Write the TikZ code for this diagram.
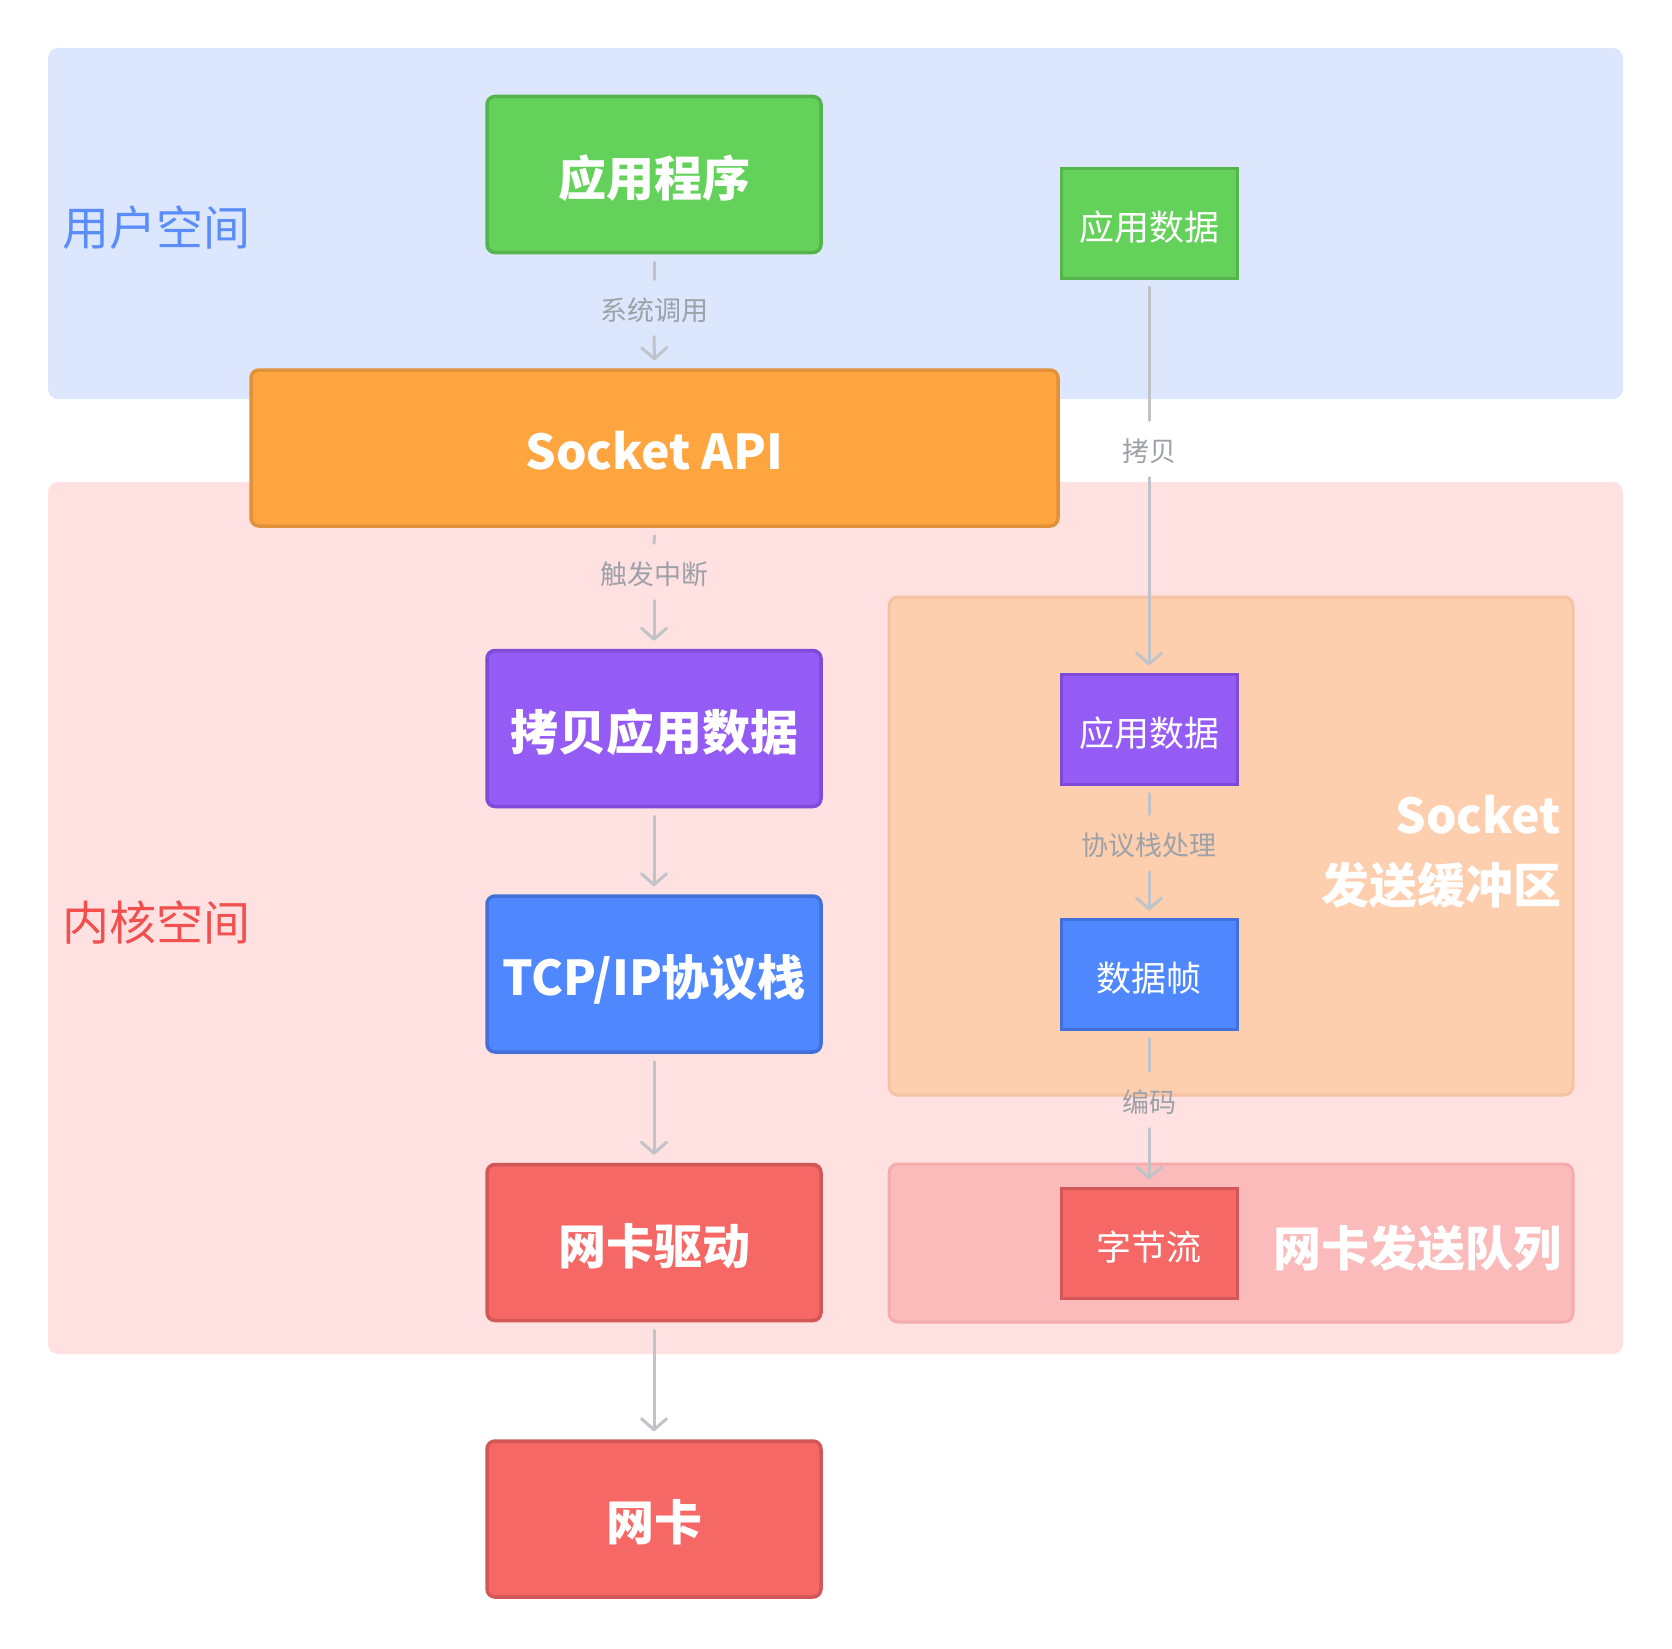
\documentclass[tikz,border=0pt]{standalone}
\usepackage{fontspec}
\setmainfont{Noto Sans CJK SC}
\usetikzlibrary{arrows.meta}
\definecolor{userbg}{HTML}{DCE7FD}
\definecolor{kernbg}{HTML}{FFE1E2}
\definecolor{usertxt}{HTML}{5B8DF9}
\definecolor{kerntxt}{HTML}{F2504F}
\definecolor{gfill}{HTML}{64D25A}
\definecolor{gdraw}{HTML}{55B44B}
\definecolor{ofill}{HTML}{FFA53F}
\definecolor{odraw}{HTML}{E0913A}
\definecolor{pfill}{HTML}{955BF5}
\definecolor{pdraw}{HTML}{7E4AD8}
\definecolor{bfill}{HTML}{4F87FE}
\definecolor{bdraw}{HTML}{4170D8}
\definecolor{rfill}{HTML}{F66866}
\definecolor{rdraw}{HTML}{D35756}
\definecolor{buffill}{HTML}{FDCFAE}
\definecolor{bufdraw}{HTML}{F5C3A3}
\definecolor{qfill}{HTML}{FCBBBB}
\definecolor{qdraw}{HTML}{F5ACAC}
\definecolor{lbltxt}{HTML}{9DA1A8}
\definecolor{arrgray}{HTML}{C0C3C8}
\tikzset{
  bigbox/.style={draw=#1draw, fill=#1fill, line width=3.5pt, rounded corners=8pt,
    minimum width=334pt, minimum height=156pt, inner sep=0pt, text=white,
    text height=43.5pt, text depth=0pt,
    font=\fontsize{48}{56}\selectfont\bfseries},
  smallbox/.style={draw=#1draw, fill=#1fill, line width=3pt,
    minimum width=176pt, minimum height=110pt, inner sep=0pt, text=white,
    text height=34.6pt, text depth=0pt,
    font=\fontsize{35}{42}\selectfont},
  lbl/.style={text=lbltxt, font=\fontsize{27}{32}\selectfont, inner sep=0pt,
    text height=25pt, text depth=0pt, minimum height=57pt},
  seg/.style={draw=arrgray, line width=3pt, line cap=round},
  arr/.style={seg, -{Straight Barb[length=11pt,width=25pt,round]}},
  spacetxt/.style={font=\fontsize{47}{56}\selectfont, inner sep=0pt, anchor=base west},
  regtxt/.style={font=\fontsize{48}{56}\selectfont\bfseries, text=white, inner sep=0pt, anchor=base east},
}
\begin{document}
\begin{tikzpicture}[x=1pt,y=-1pt]
\useasboundingbox (0,0) rectangle (1672,1648);
% backgrounds
\fill[userbg, rounded corners=10pt] (48,48) rectangle (1623,399);
\fill[kernbg, rounded corners=10pt] (48,482) rectangle (1623,1354);
\draw[fill=buffill, draw=bufdraw, line width=3pt, rounded corners=9pt] (889,597) rectangle (1573,1095);
\draw[fill=qfill, draw=qdraw, line width=3pt, rounded corners=9pt] (889,1164) rectangle (1573,1322);
% region labels
\node[spacetxt, text=usertxt] (us) at (62,245.5) {用户空间};
\node[spacetxt, text=kerntxt] (ks) at (62,940) {内核空间};
\node[regtxt] (sb1) at (1561,833) {Socket};
\node[regtxt] (sb2) at (1562,903) {发送缓冲区};
\node[regtxt] (nq) at (1562,1266) {网卡发送队列};
% left column
\node[bigbox=g] (app) at (654,174.5) {应用程序};
\node[bigbox=o, minimum width=807pt] (sock) at (654.5,448) {Socket API};
\node[bigbox=p] (copy) at (654,728.5) {拷贝应用数据};
\node[bigbox=b] (tcp) at (654,974) {TCP/IP协议栈};
\node[bigbox=r] (drv) at (654,1242.5) {网卡驱动};
\node[bigbox=r] (nic) at (654,1519) {网卡};
% right column
\node[smallbox=g] (d1) at (1149,223.5) {应用数据};
\node[smallbox=p] (d2) at (1149,729) {应用数据};
\node[smallbox=b] (d3) at (1149,974) {数据帧};
\node[smallbox=r] (d4) at (1149,1243) {字节流};
% labels
\node[lbl] (l1) at (654,308) {系统调用};
\node[lbl] (l2) at (654,572) {触发中断};
\node[lbl] (l6) at (1149,449) {拷贝};
\node[lbl] (l7) at (1149,843) {协议栈处理};
\node[lbl] (l8) at (1149,1100) {编码};
% connectors
\draw[seg] ([yshift=-8pt]app.south) -- (l1.north);
\draw[arr] (l1.south) -- ([yshift=8pt]sock.north);
\draw[seg] ([yshift=-8pt]sock.south) -- (l2.north);
\draw[arr] (l2.south) -- ([yshift=8pt]copy.north);
\draw[arr] ([yshift=-8pt]copy.south) -- ([yshift=8pt]tcp.north);
\draw[arr] ([yshift=-8pt]tcp.south) -- ([yshift=8pt]drv.north);
\draw[arr] ([yshift=-8pt]drv.south) -- ([yshift=8pt]nic.north);
\draw[seg] ([yshift=-7pt]d1.south) -- (l6.north);
\draw[arr] (l6.south) -- ([yshift=7pt]d2.north);
\draw[seg] ([yshift=-8pt]d2.south) -- (l7.north);
\draw[arr] (l7.south) -- ([yshift=7pt]d3.north);
\draw[seg] ([yshift=-8pt]d3.south) -- (l8.north);
\draw[arr] (l8.south) -- ([yshift=7pt]d4.north);
\end{tikzpicture}
\end{document}
